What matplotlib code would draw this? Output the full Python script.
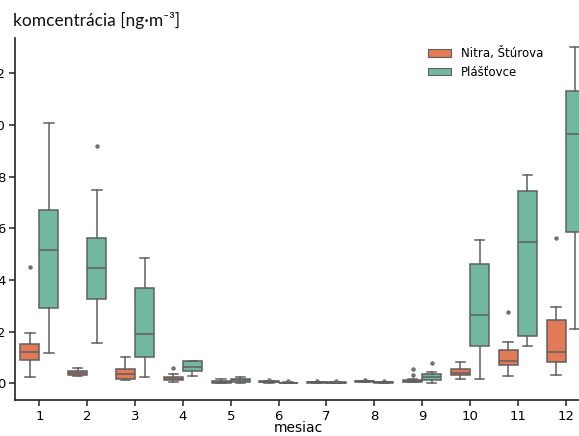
import numpy as np
import matplotlib
matplotlib.use("Agg")
import matplotlib.pyplot as plt
from matplotlib.patches import Patch

# monthly box statistics, ng/m3
months = list(range(1, 13))

nitra_lo  = [0.26, 0.27, 0.12, 0.06, 0.01, 0.02, 0.02, 0.04, 0.04, 0.15, 0.30, 0.33]
nitra_q1  = [0.90, 0.31, 0.18, 0.12, 0.03, 0.04, 0.03, 0.06, 0.05, 0.33, 0.70, 0.84]
nitra_med = [1.20, 0.41, 0.36, 0.18, 0.06, 0.05, 0.04, 0.07, 0.10, 0.40, 0.85, 1.20]
nitra_q3  = [1.51, 0.49, 0.57, 0.24, 0.09, 0.07, 0.05, 0.08, 0.14, 0.57, 1.30, 2.45]
nitra_hi  = [1.93, 0.60, 1.01, 0.35, 0.17, 0.08, 0.06, 0.09, 0.16, 0.84, 1.61, 2.95]
nitra_out = [[4.51], [], [], [0.59], [], [0.14], [0.09], [0.13], [0.33, 0.57], [], [2.76], [5.63]]

plas_lo  = [1.18, 1.55, 0.26, 0.30, 0.00, 0.00, 0.00, 0.02, 0.00, 0.15, 1.44, 2.11]
plas_q1  = [2.92, 3.27, 1.01, 0.49, 0.05, 0.01, 0.02, 0.03, 0.12, 1.44, 1.83, 5.87]
plas_med = [5.14, 4.45, 1.91, 0.64, 0.12, 0.02, 0.03, 0.04, 0.23, 2.63, 5.45, 9.64]
plas_q3  = [6.72, 5.63, 3.67, 0.85, 0.17, 0.03, 0.04, 0.05, 0.36, 4.62, 7.44, 11.32]
plas_hi  = [10.08, 7.49, 4.86, 0.88, 0.23, 0.04, 0.05, 0.06, 0.45, 5.56, 8.06, 13.00]
plas_out = [[], [9.19], [], [], [], [0.08], [0.08], [0.09], [0.77], [], [], []]

labels = ["Nitra, Štúrova", "Plášťovce"]
colors = ["#E07A57", "#72B7A0"]
line_col = "#5f5f5f"


def make_stats(lo, q1, med, q3, hi, out):
    return [dict(whislo=a, q1=b, med=c, q3=d, whishi=e, fliers=f)
            for a, b, c, d, e, f in zip(lo, q1, med, q3, hi, out)]


W, H = 579, 436
fig = plt.figure(figsize=(W / 100, H / 100), dpi=100)
# axes run past the right edge, like the cropped original
ax = fig.add_axes([15.4 / W, 36 / H, 574.2 / W, 362 / H])

groups = [
    make_stats(nitra_lo, nitra_q1, nitra_med, nitra_q3, nitra_hi, nitra_out),
    make_stats(plas_lo, plas_q1, plas_med, plas_q3, plas_hi, plas_out),
]
offsets = [-0.2, 0.2]

for stats, off, col in zip(groups, offsets, colors):
    pos = np.array(months) + off
    ax.bxp(stats, positions=pos, widths=0.4, patch_artist=True,
           showfliers=True, manage_ticks=False,
           boxprops=dict(facecolor=col, edgecolor=line_col, linewidth=1.1),
           medianprops=dict(color=line_col, linewidth=1.1),
           whiskerprops=dict(color=line_col, linewidth=1.1),
           capprops=dict(color=line_col, linewidth=1.1),
           flierprops=dict(marker="o", markersize=2.5, markerfacecolor="#7a7a7a",
                           markeredgecolor=line_col, markeredgewidth=0.6))

ax.set_xlim(0.5, 12.5)
ax.set_ylim(-0.646, 13.36)
ax.set_xticks(months)
ax.set_xticklabels([str(m) for m in months])
ax.set_yticks([0, 2, 4, 6, 8, 10, 12])
ax.tick_params(labelsize=9.5, color="#222222", length=4, width=1.1, pad=3)
for s in ["top", "right"]:
    ax.spines[s].set_visible(False)
for s in ["left", "bottom"]:
    ax.spines[s].set_linewidth(1.2)
    ax.spines[s].set_color("#222222")

ax.set_xlabel("mesiac", fontsize=10, va="center")
ax.xaxis.set_label_coords(0.492, -28 / 362)

fig.text(13 / W, 1 - 20 / H, "komcentrácia [ng·m⁻³]", fontsize=12.5,
         family=["Lato", "DejaVu Sans"], va="center", ha="left", color="#111111")

handles = [Patch(facecolor=c, edgecolor=line_col, linewidth=0.8) for c in colors]
fig.legend(handles, labels, loc="upper left", bbox_to_anchor=(423 / W, 1 - 42 / H),
           bbox_transform=fig.transFigure, frameon=False, fontsize=8.5,
           handlelength=2.0, handleheight=0.65, labelspacing=0.5, borderaxespad=0)

fig.savefig("out.png", dpi=100)
